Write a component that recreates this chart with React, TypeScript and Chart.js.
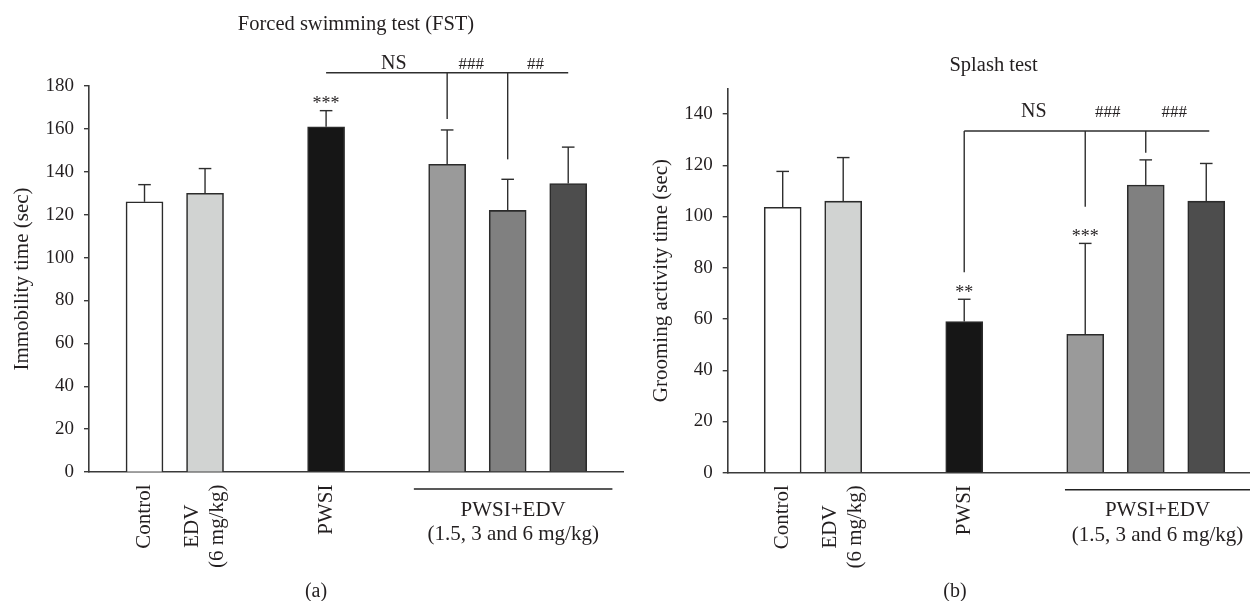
import React, { useEffect, useRef } from "react";
import { Chart, registerables } from "chart.js";

Chart.register(...registerables);

// ---------- data ----------
const categoryLabels: string[][] = [["Control"], ["EDV", "(6 mg/kg)"], ["PWSI"]];
const labelSlots = [0, 1, 3];
const barSlots = [0, 1, 3, 5, 6, 7];
const barColors = ["#ffffff", "#d1d3d2", "#161616", "#9a9a9a", "#808080", "#4d4d4d"];
const groupLabel = ["PWSI+EDV", "(1.5, 3 and 6 mg/kg)"];

const fstMeans = [126, 130, 161, 143.5, 122, 134.5];
const fstErrors = [8, 11.5, 7.5, 16, 14.5, 17];
const fstStars = [{ bar: 2, text: "***" }];
const fstBracket = { y: 186.2, from: 3, to: 7 };
const fstDrops = [
  { slot: 5, to: 164.6 },
  { slot: 6, to: 145.8 },
];
const fstBracketLabels = [
  { x: 4.12, text: "NS" },
  { x: 5.4, text: "###" },
  { x: 6.46, text: "##" },
];

const splashMeans = [103.6, 106, 59, 54, 112.3, 106];
const splashErrors = [14, 17, 8.7, 35.5, 9.8, 14.7];
const splashStars = [
  { bar: 2, text: "**" },
  { bar: 3, text: "***" },
];
const splashBracket = { y: 133.4, from: 3, to: 7.05 };
const splashDrops = [
  { slot: 3, to: 78.2 },
  { slot: 5, to: 103.8 },
  { slot: 6, to: 124.9 },
];
const splashBracketLabels = [
  { x: 4.15, text: "NS" },
  { x: 5.37, text: "###" },
  { x: 6.47, text: "###" },
];

// ---------- style ----------
const FONT = '"Liberation Serif", "Times New Roman", Times, serif';
const INK = "#231f20";
const AXIS = "#3a3a3a";

type Panel = {
  title: string;
  titleX: number;
  titleBaseline: number;
  yTitle: string;
  yTitleX: number;
  letter: string;
  letterX: number;
  means: number[];
  errors: number[];
  stars: { bar: number; text: string }[];
  bracket: { y: number; from: number; to: number };
  drops: { slot: number; to: number }[];
  bracketLabels: { x: number; text: string }[];
  bracketLabelY: number;
  yMax: number;
  yTickMax: number;
  xMin: number;
  xMax: number;
  top: number;
  padRight: number;
  yAxisWidth: number;
  xAxisHeight: number;
  groupFrom: number;
  groupTo: number;
  width: number;
};

function makePlugin(p: Panel) {
  return {
    id: "panelAnnotations",
    afterDatasetsDraw(chart: any) {
      const ctx: CanvasRenderingContext2D = chart.ctx;
      const xs = chart.scales.x;
      const ys = chart.scales.y;
      const area = chart.chartArea;
      const seg = (x0: number, y0: number, x1: number, y1: number) => {
        ctx.beginPath();
        ctx.moveTo(x0, y0);
        ctx.lineTo(x1, y1);
        ctx.stroke();
      };
      ctx.save();
      ctx.strokeStyle = "#2e2e2e";
      ctx.lineWidth = 1.4;
      // error bars (upper only)
      p.means.forEach((m, i) => {
        const x = xs.getPixelForValue(barSlots[i]);
        const y0 = ys.getPixelForValue(m);
        const y1 = ys.getPixelForValue(m + p.errors[i]);
        seg(x, y0, x, y1);
        seg(x - 6.3, y1, x + 6.3, y1);
      });
      // bracket
      const by = ys.getPixelForValue(p.bracket.y);
      seg(xs.getPixelForValue(p.bracket.from), by, xs.getPixelForValue(p.bracket.to), by);
      p.drops.forEach((d) => {
        const x = xs.getPixelForValue(d.slot);
        seg(x, by, x, ys.getPixelForValue(d.to));
      });
      ctx.fillStyle = INK;
      ctx.textAlign = "center";
      ctx.textBaseline = "alphabetic";
      // bracket labels
      p.bracketLabels.forEach((l) => {
        ctx.font = l.text === "NS" ? `20px ${FONT}` : `17px ${FONT}`;
        ctx.fillText(l.text, xs.getPixelForValue(l.x), ys.getPixelForValue(p.bracketLabelY));
      });
      // stars
      ctx.font = `18px ${FONT}`;
      p.stars.forEach((s) => {
        const x = xs.getPixelForValue(barSlots[s.bar]);
        const cap = ys.getPixelForValue(p.means[s.bar] + p.errors[s.bar]);
        ctx.fillText(s.text, x, cap - 10 + 8.5);
      });
      // title
      ctx.font = `20.5px ${FONT}`;
      ctx.fillText(p.title, p.titleX, p.titleBaseline);
      // y axis title
      ctx.save();
      ctx.translate(p.yTitleX, (area.top + area.bottom) / 2);
      ctx.rotate(-Math.PI / 2);
      ctx.font = `21px ${FONT}`;
      ctx.textBaseline = "middle";
      ctx.fillText(p.yTitle, 0, 0);
      ctx.restore();
      // rotated category labels
      ctx.font = `21px ${FONT}`;
      categoryLabels.forEach((lines, i) => {
        const x = xs.getPixelForValue(labelSlots[i]);
        const w = Math.max(...lines.map((t) => ctx.measureText(t).width));
        const cy = area.bottom + 12.5 + w / 2;
        const lh = 25;
        lines.forEach((t, j) => {
          const off = (j - (lines.length - 1) / 2) * lh;
          ctx.save();
          ctx.translate(x + off, cy);
          ctx.rotate(-Math.PI / 2);
          ctx.textAlign = "center";
          ctx.textBaseline = "middle";
          ctx.fillText(t, 0, 0);
          ctx.restore();
        });
      });
      // group label
      const gx0 = xs.getPixelForValue(p.groupFrom);
      const gx1 = Math.min(xs.getPixelForValue(p.groupTo), p.width);
      ctx.strokeStyle = "#222";
      ctx.lineWidth = 1.4;
      seg(gx0, area.bottom + 17, gx1, area.bottom + 17);
      const gcx = (gx0 + gx1) / 2;
      ctx.textAlign = "center";
      ctx.textBaseline = "alphabetic";
      ctx.fillText(groupLabel[0], gcx, area.bottom + 43.5);
      ctx.fillText(groupLabel[1], gcx, area.bottom + 68);
      // panel letter
      ctx.font = `20px ${FONT}`;
      ctx.textBaseline = "middle";
      ctx.fillText(p.letter, p.letterX, 592);
      ctx.restore();
    },
  };
}

function buildChart(canvas: HTMLCanvasElement, p: Panel) {
  return new Chart(canvas, {
    type: "bar",
    data: {
      datasets: [
        {
          data: barSlots.map((s, i) => ({ x: s, y: p.means[i] })),
          backgroundColor: barColors,
          borderColor: "#2b2b2b",
          borderWidth: 1.6,
          barThickness: 37,
        },
      ],
    },
    options: {
      responsive: false,
      animation: false,
      devicePixelRatio: 1,
      layout: { padding: { top: p.top, right: p.padRight, left: 0, bottom: 0 } },
      plugins: {
        legend: { display: false },
        tooltip: { enabled: false },
        title: { display: false },
      },
      scales: {
        x: {
          type: "linear",
          offset: false,
          min: p.xMin,
          max: p.xMax,
          ticks: { display: false },
          grid: { display: false, offset: false },
          border: { display: true, color: AXIS, width: 1.6 },
          afterFit: (s: any) => {
            s.height = p.xAxisHeight;
          },
        },
        y: {
          min: 0,
          max: p.yMax,
          ticks: {
            stepSize: 20,
            color: INK,
            font: { family: FONT, size: 19 },
            padding: 10,
          },
          grid: {
            drawOnChartArea: false,
            drawTicks: true,
            tickLength: 5,
            color: AXIS,
            lineWidth: 1.4,
          },
          border: { display: true, color: AXIS, width: 1.6 },
          afterFit: (s: any) => {
            s.width = p.yAxisWidth;
          },
          afterBuildTicks: (s: any) => {
            s.ticks = s.ticks.filter((t: any) => t.value <= p.yTickMax);
          },
        },
      },
    } as any,
    plugins: [makePlugin(p)],
  });
}

const leftPanel: Panel = {
  title: "Forced swimming test (FST)",
  titleX: 356,
  titleBaseline: 30,
  yTitle: "Immobility time (sec)",
  yTitleX: 22,
  letter: "(a)",
  letterX: 316,
  means: fstMeans,
  errors: fstErrors,
  stars: fstStars,
  bracket: fstBracket,
  drops: fstDrops,
  bracketLabels: fstBracketLabels,
  bracketLabelY: 188,
  yMax: 180,
  yTickMax: 180,
  xMin: -0.917,
  xMax: 7.91,
  top: 86,
  padRight: 16.7,
  yAxisWidth: 89,
  xAxisHeight: 129,
  groupFrom: 4.45,
  groupTo: 7.73,
  width: 640,
};

const rightPanel: Panel = {
  title: "Splash test",
  titleX: 353.6,
  titleBaseline: 71,
  yTitle: "Grooming activity time (sec)",
  yTitleX: 21,
  letter: "(b)",
  letterX: 315,
  means: splashMeans,
  errors: splashErrors,
  stars: splashStars,
  bracket: splashBracket,
  drops: splashDrops,
  bracketLabels: splashBracketLabels,
  bracketLabelY: 139,
  yMax: 150,
  yTickMax: 140,
  xMin: -0.909,
  xMax: 7.723,
  top: 88.4,
  padRight: 0,
  yAxisWidth: 87.7,
  xAxisHeight: 128.3,
  groupFrom: 4.665,
  groupTo: 7.723,
  width: 610,
};

export default function App() {
  const leftRef = useRef<HTMLCanvasElement>(null);
  const rightRef = useRef<HTMLCanvasElement>(null);

  useEffect(() => {
    const a = buildChart(leftRef.current!, leftPanel);
    const b = buildChart(rightRef.current!, rightPanel);
    return () => {
      a.destroy();
      b.destroy();
    };
  }, []);

  return (
    <div
      style={{
        position: "absolute",
        left: 0,
        top: 0,
        width: 1250,
        height: 601,
        background: "#ffffff",
        overflow: "hidden",
      }}
    >
      <canvas
        ref={leftRef}
        width={640}
        height={601}
        style={{ position: "absolute", left: 0, top: 0, width: 640, height: 601 }}
      />
      <canvas
        ref={rightRef}
        width={610}
        height={601}
        style={{ position: "absolute", left: 640, top: 0, width: 610, height: 601 }}
      />
    </div>
  );
}
